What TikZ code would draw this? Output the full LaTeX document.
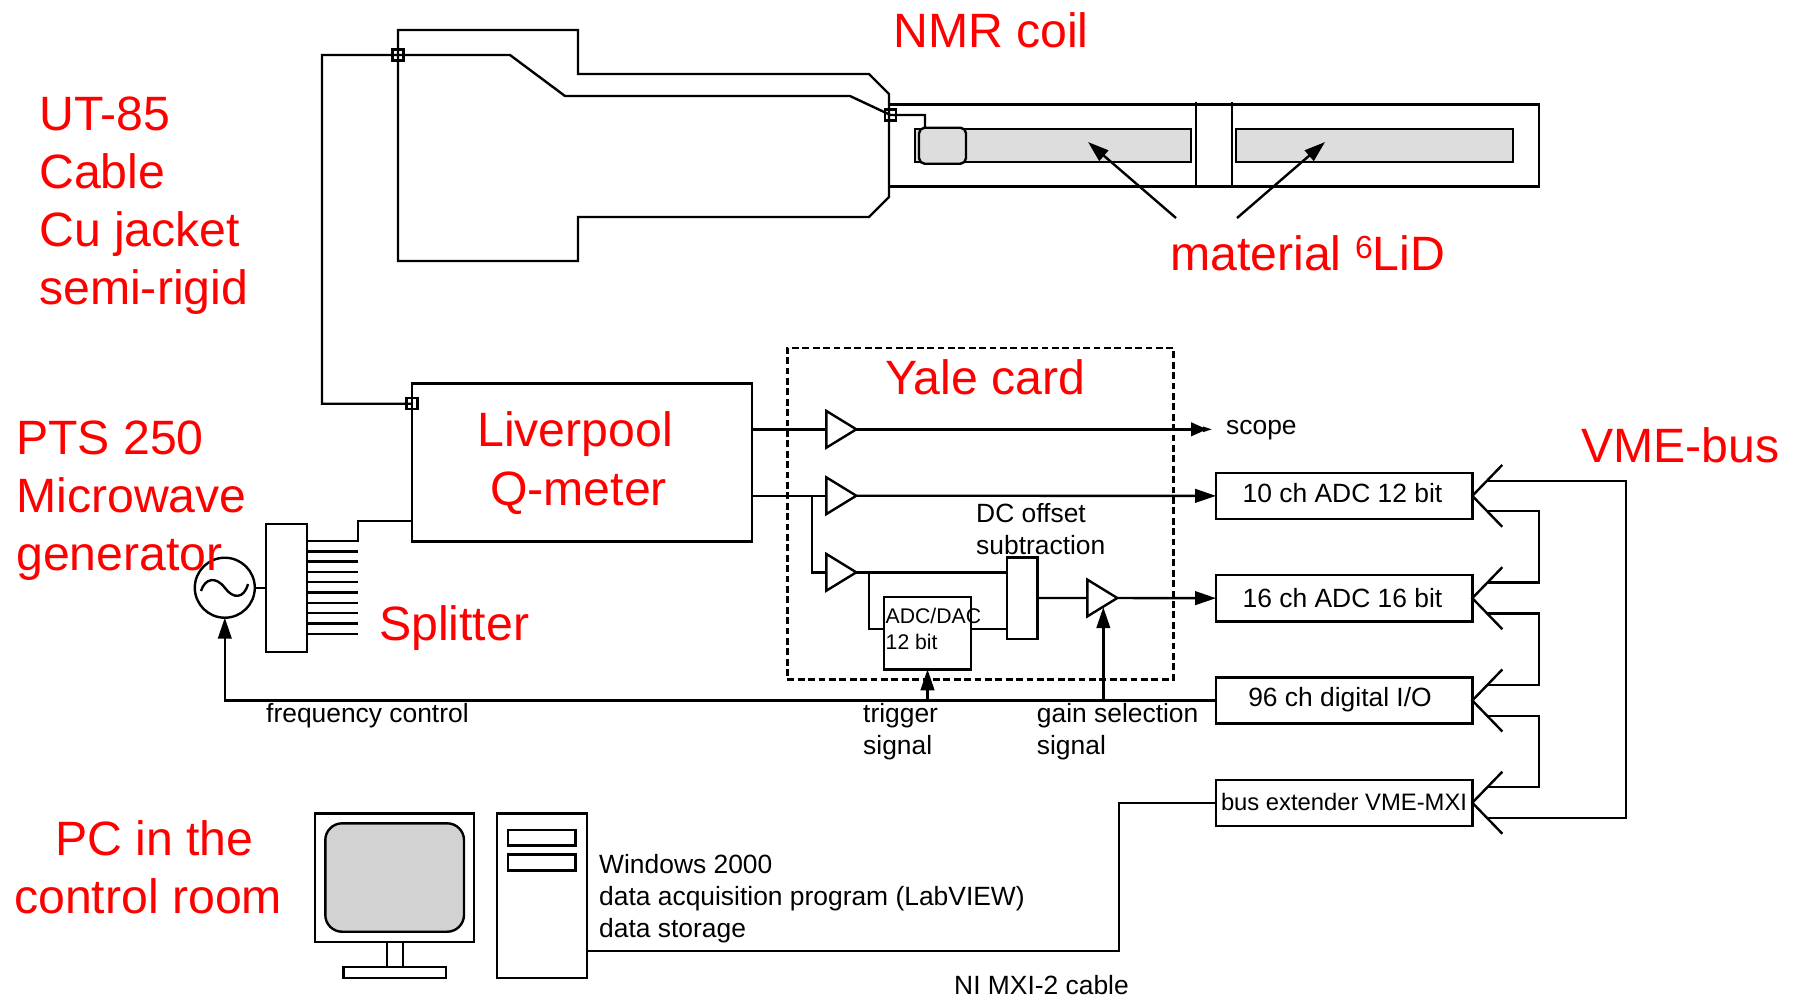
\documentclass[tikz,border=0pt]{standalone}
\usepackage{fontspec}
\setmainfont{Liberation Sans}
\usetikzlibrary{shapes.geometric}
\usetikzlibrary{arrows.meta}
\tikzset{
  wh/.style 2 args={minimum width=#1*0.25pt, minimum height=#2*0.25pt},
  box/.style={draw, rectangle, outer sep=0pt, anchor=north west},
  conn/.style={draw, rectangle, outer sep=0pt, minimum size=2.75pt},
  amp/.style={draw, isosceles triangle, isosceles triangle stretches, outer sep=0pt,
    minimum width=9.2pt, minimum height=7.5pt, anchor=lower side},
  redtxt/.style={text=red, anchor=west, align=left, font=\fontsize{12.05}{14.5}\selectfont},
  blacktxt/.style={anchor=west, align=left, font=\fontsize{6.6}{8}\selectfont},
  smalltxt/.style={anchor=west, align=left, font=\fontsize{5.3}{6.5}\selectfont},
}
\begin{document}
\begin{tikzpicture}[x=0.25pt, y=0.25pt, line width=0.6pt, >={Triangle[length=5.25pt,width=3.4pt]}]
\tikzstyle{every node}+=[inner sep=0pt]
\useasboundingbox (0,0) rectangle (1794,-999);
\draw (398,-30) -- (578,-30) -- (578,-74) -- (869,-74) -- (889,-94) -- (889,-197) -- (869,-217) -- (578,-217) -- (578,-261) -- (398,-261) -- cycle;
\node [box, wh={650}{82}] (tube) at (889,-104.5) {};
\draw (1196,-101.5) -- (1196,-186.5);
\draw (1232,-101.5) -- (1232,-186.5);
\node [box, wh={276}{33}, fill=gray!27] (mat1) at (915,-129) {};
\node [box, wh={277}{33}, fill=gray!27] (mat2) at (1236,-129) {};
\node [box, wh={47}{36}, fill=gray!27, rounded corners=1.4pt] (nmrcoil) at (919,-127.7) {};
\draw [->] (1176,-218) -- (1088,-142);
\draw [->] (1237,-218) -- (1325,-142);
\node [box, wh={340}{158}] (qmeter) at (412,-383.3) {};
\node [conn] (c1) at (398,-55) {};
\node [conn] (c2) at (890.5,-115) {};
\node [conn] (c3) at (412,-403.7) {};
\coordinate (wireend) at (925,-128);
\draw (c3.center) -- (322,-403.7) -- (322,-55) -- (c1.center) -- (510,-55) -- (565,-96) -- (850,-96) -- (c2.center) -| (wireend);
\node [box, wh={41}{128}] (splitter) at (266,-523.7) {};
\node [draw, circle, minimum size=15pt, outer sep=0pt] (osc) at (224.8,-587.7) {};
\draw (201,-591) .. controls (205,-578) and (216,-576) .. (225,-588) .. controls (233,-599) and (244,-599) .. (248,-584);
\draw (osc.east) -- (splitter.west |- osc.east);
\coordinate (out0) at (358,-541);
\coordinate (out1) at (358,-551.3);
\coordinate (out2) at (358,-561.6);
\coordinate (out3) at (358,-571.9);
\coordinate (out4) at (358,-582.2);
\coordinate (out5) at (358,-592.5);
\coordinate (out6) at (358,-602.8);
\coordinate (out7) at (358,-613.1);
\coordinate (out8) at (358,-623.4);
\coordinate (out9) at (358,-633.7);
\draw (out0 -| splitter.east) -- (out0) -- (358,-521) -- (358,-521 -| qmeter.west);
\draw (out1 -| splitter.east) -- (out1);
\draw (out2 -| splitter.east) -- (out2);
\draw (out3 -| splitter.east) -- (out3);
\draw (out4 -| splitter.east) -- (out4);
\draw (out5 -| splitter.east) -- (out5);
\draw (out6 -| splitter.east) -- (out6);
\draw (out7 -| splitter.east) -- (out7);
\draw (out8 -| splitter.east) -- (out8);
\draw (out9 -| splitter.east) -- (out9);
\node [box, wh={386}{331.5}, dash pattern=on 1.7pt off 0.9pt] (yale) at (787.3,-347.8) {};
\node [amp] (amp1) at (826.3,-429.3) {};
\node [amp] (amp2) at (826.3,-495.7) {};
\node [amp] (amp3) at (826.3,-572.3) {};
\node [amp] (amp4) at (1087.3,-598) {};
\node [box, wh={87}{72.3}] (adc) at (884,-597) {};
\node [box, wh={30.6}{81.4}] (dcbox) at (1006.7,-557.3) {};
\node [box, wh={256.3}{46.3}] (adcten) at (1216,-472.7) {};
\node [box, wh={256.3}{46.3}] (adcsixteen) at (1216,-575) {};
\node [box, wh={256.3}{46.3}] (dio) at (1216,-677.3) {};
\node [box, wh={256.3}{46}] (busext) at (1216,-779.7) {};
\coordinate (scopeend) at (1213,-429.3);
\coordinate (tap2) at (812,-495.7);
\coordinate (tap3) at (869,-572.3);
\coordinate (adcin) at (884,-628.7);
\coordinate (trigtap) at (927.5,-700.5);
\coordinate (gaintap) at (1103.3,-700.5);
\draw (amp1.lower side -| qmeter.east) -- (amp1.lower side);
\draw (amp2.lower side -| qmeter.east) -- (amp2.lower side);
\draw [-{Triangle[length=4pt,width=3.4pt,sep=-1pt]Triangle[length=2.5pt,width=1.2pt]}] (amp1.apex) -- (scopeend);
\draw [->] (amp2.apex) -- (adcten.west);
\draw (tap2) |- (amp3.lower side);
\draw (amp3.apex) -- (amp3.apex -| dcbox.west);
\draw (tap3) |- (adcin);
\draw (adcin -| adc.east) -- (adcin -| dcbox.west);
\draw (dcbox.east) -- (amp4.lower side);
\draw [->] (amp4.apex) -- (adcsixteen.west);
\draw [->] (dio.west) -| (osc.south);
\draw [->] (trigtap) -- (adc.south);
\draw [->] (gaintap) -- (gaintap |- amp4.right side);
\draw (busext.east) ++(30,31) -- (busext.east) -- ++(30,-31);
\draw (dio.east) ++(30,31) -- (dio.east) -- ++(30,-31);
\draw (adcsixteen.east) ++(30,31) -- (adcsixteen.east) -- ++(30,-31);
\draw (adcten.east) ++(30,31) -- (adcten.east) -- ++(30,-31);
\coordinate (bus1a) at (1487,-480.7);
\coordinate (bus1b) at (1487,-511);
\coordinate (bus2a) at (1487,-582.3);
\coordinate (bus2b) at (1487,-613.3);
\coordinate (bus3a) at (1487,-685);
\coordinate (bus3b) at (1487,-715.7);
\coordinate (bus4a) at (1487,-787);
\coordinate (bus4b) at (1487,-817.7);
\draw (bus1b) -- ++(52,0) |- (bus2a);
\draw (bus2b) -- ++(52,0) |- (bus3a);
\draw (bus3b) -- ++(52,0) |- (bus4a);
\draw (bus1a) -- ++(139,0) |- (bus4b);
\node [box, wh={159}{128.4}] (monitor) at (315,-813.3) {};
\node [box, wh={138.7}{108.4}, fill=gray!35, rounded corners=4.2pt] (screen) at (325.3,-823.3) {};
\node [box, wh={15.7}{25.3}] (neck) at (387,-941.7) {};
\node [box, wh={102.7}{10.7}] (base) at (343.3,-967) {};
\node [box, wh={90}{164.4}] (tower) at (496.7,-813.3) {};
\node [box, wh={67.3}{15.3}] (bay1) at (508,-830) {};
\node [box, wh={67.3}{16}] (bay2) at (508,-854.3) {};
\coordinate (cableout) at (586.7,-950.7);
\coordinate (cablemid) at (1119,-950.7);
\draw (cableout) -- (cablemid) |- (busext.west);
\node [redtxt] (nmrlabel) at (892,-30) {NMR coil};
\node [redtxt] (lidlabel) at (1169,-253) {material \raisebox{3pt}{\fontsize{8}{9}\selectfont 6}LiD};
\node [redtxt] (cablelabel) at (38,-206) {UT-85\\Cable\\Cu jacket\\semi-rigid};
\node [redtxt] (ptslabel) at (15,-501) {PTS 250\\Microwave\\generator};
\node [redtxt] (qlabel1) at (476,-434.5) {Liverpool};
\node [redtxt] (qlabel2) at (489,-493) {Q-meter};
\node [redtxt] (yalelabel) at (884,-377.5) {Yale card};
\node [redtxt] (splitlabel) at (378,-628.5) {Splitter};
\node [redtxt] (vmelabel) at (1580,-445) {VME-bus};
\node [redtxt] (pclabel1) at (54,-838.6) {PC in the};
\node [redtxt] (pclabel2) at (13,-896) {control room};
\node [blacktxt] (scopelabel) at (1225,-430) {scope};
\node [blacktxt] (dclabel) at (975,-529) {DC offset\\subtraction};
\node [smalltxt] (adclabel) at (884.5,-629) {ADC/DAC\\12 bit};
\node [blacktxt] (freqlabel) at (265,-715.5) {frequency control};
\node [blacktxt] (triglabel) at (862,-731.5) {trigger\\signal};
\node [blacktxt] (gainlabel) at (1035.7,-731.5) {gain selection\\signal};
\node [blacktxt, anchor=center] (adctenlabel) at (1342.5,-493.5) {10 ch ADC 12 bit};
\node [blacktxt, anchor=center] (adcsixlabel) at (1342.5,-598) {16 ch ADC 16 bit};
\node [blacktxt, anchor=center] (diolabel) at (1340,-699.5) {96 ch digital I/O};
\node [blacktxt, anchor=center, font=\fontsize{5.95}{8}\selectfont] (buslabel) at (1344,-802) {bus extender VME-MXI};
\node [blacktxt] (winlabel) at (598,-898.5) {Windows 2000\\data acquisition program (LabVIEW)\\data storage};
\node [blacktxt] (mxilabel) at (953,-985) {NI MXI-2 cable};
\end{tikzpicture}
\end{document}
